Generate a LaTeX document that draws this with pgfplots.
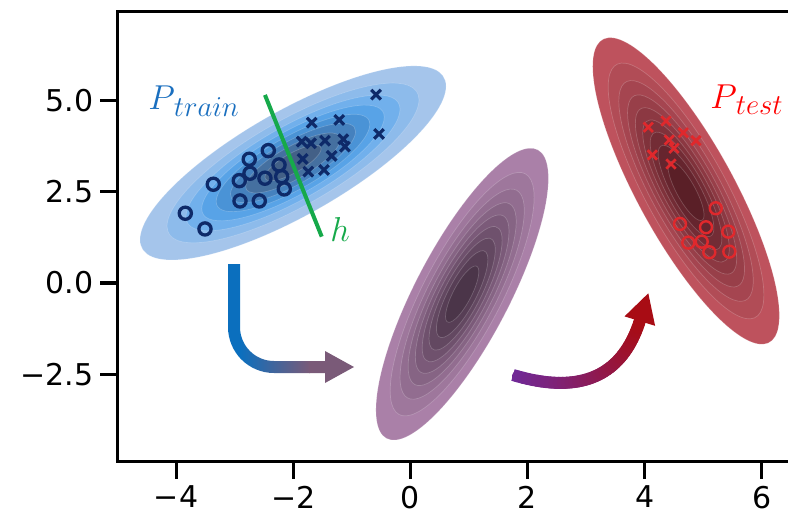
\documentclass[border=0pt]{standalone}
\usepackage{pgfplots}
\pgfplotsset{compat=1.18}
\usepackage{fontspec}
\setmainfont{DejaVu Sans}
\definecolor{b1}{HTML}{A5C5EB}
\definecolor{b2}{HTML}{8DBBEB}
\definecolor{b3}{HTML}{71B0EC}
\definecolor{b4}{HTML}{58A3E7}
\definecolor{b5}{HTML}{4A93D6}
\definecolor{b6}{HTML}{4581BE}
\definecolor{b7}{HTML}{4570A0}
\definecolor{b8}{HTML}{436087}
\definecolor{pL}{HTML}{AA80A8}
\definecolor{pD}{HTML}{4B3549}
\definecolor{rL}{HTML}{BE525D}
\definecolor{rD}{HTML}{5A1F27}
\colorlet{p1}{pL}\colorlet{p2}{pD!12.5!pL}\colorlet{p3}{pD!25!pL}\colorlet{p4}{pD!37.5!pL}
\colorlet{p5}{pD!50!pL}\colorlet{p6}{pD!62.5!pL}\colorlet{p7}{pD!75!pL}\colorlet{p8}{pD!87.5!pL}\colorlet{p9}{pD}
\colorlet{r1}{rL}\colorlet{r2}{rD!12.5!rL}\colorlet{r3}{rD!25!rL}\colorlet{r4}{rD!37.5!rL}
\colorlet{r5}{rD!50!rL}\colorlet{r6}{rD!62.5!rL}\colorlet{r7}{rD!75!rL}\colorlet{r8}{rD!87.5!rL}\colorlet{r9}{rD}
\definecolor{navy}{HTML}{0E2A69}
\definecolor{tred}{HTML}{E0282C}
\definecolor{hgreen}{HTML}{16A94A}
\definecolor{ptrain}{HTML}{1A6FBF}
\definecolor{arB}{HTML}{0B6FBE}
\definecolor{arM}{HTML}{7A5A78}
\definecolor{arP}{HTML}{6F2A9A}
\definecolor{arR}{HTML}{A80C14}
% one filled contour band: color, scale, cx, cy, Ax, Ay, Bx, By (conjugate semi-axes in data units)
\newcommand\band[8]{\pgfplotsextra{\begin{pgfscope}%
  \pgfmathsetmacro\eAx{#2*#5}\pgfmathsetmacro\eAy{#2*#6}%
  \pgfmathsetmacro\eBx{#2*#7}\pgfmathsetmacro\eBy{#2*#8}%
  \pgfpathellipse{\pgfplotspointaxisxy{#3}{#4}}{\pgfplotspointaxisdirectionxy{\eAx}{\eAy}}{\pgfplotspointaxisdirectionxy{\eBx}{\eBy}}%
  \pgfsetfillcolor{#1}\pgfsetstrokecolor{white}\pgfsetstrokeopacity{0.2}\pgfsetlinewidth{0.35pt}%
  \pgfusepath{fill,stroke}\end{pgfscope}}}
\begin{document}
\begin{tikzpicture}
\begin{axis}[
  name=ax, at={(0,0)}, anchor=south west,
  scale only axis, width=335.35pt, height=225pt,
  xmin=-5.004, xmax=6.447, ymin=-4.89, ymax=7.42,
  axis x line*=bottom, axis y line*=left,
  axis line style={line width=1.6pt, line cap=rect},
  tick align=outside, major tick length=8.5pt,
  tick style={line width=1.6pt, black},
  tick label style={font=\fontsize{15}{18}\selectfont},
  xtick={-4,-2,0,2,4,6}, xticklabels={−4,−2,0,2,4,6},
  ytick={-2.5,0,2.5,5}, yticklabels={−2.5,0.0,2.5,5.0},
]
% P_train contours
\band{b1}{1}{-2.004}{3.283}{2.612}{2.099}{0}{1.624}
\band{b2}{0.8233}{-2.004}{3.283}{2.612}{2.099}{0}{1.624}
\band{b3}{0.6996}{-2.004}{3.283}{2.612}{2.099}{0}{1.624}
\band{b4}{0.5964}{-2.004}{3.283}{2.612}{2.099}{0}{1.624}
\band{b5}{0.5020}{-2.004}{3.283}{2.612}{2.099}{0}{1.624}
\band{b6}{0.4090}{-2.004}{3.283}{2.612}{2.099}{0}{1.624}
\band{b7}{0.3093}{-2.004}{3.283}{2.612}{2.099}{0}{1.624}
\band{b8}{0.1834}{-2.004}{3.283}{2.612}{2.099}{0}{1.624}
% intermediate contours
\band{p1}{1}{0.884}{-0.306}{1.472}{3.168}{0}{2.429}
\band{p2}{0.8344}{0.884}{-0.306}{1.472}{3.168}{0}{2.429}
\band{p3}{0.7202}{0.884}{-0.306}{1.472}{3.168}{0}{2.429}
\band{p4}{0.6266}{0.884}{-0.306}{1.472}{3.168}{0}{2.429}
\band{p5}{0.5430}{0.884}{-0.306}{1.472}{3.168}{0}{2.429}
\band{p6}{0.4636}{0.884}{-0.306}{1.472}{3.168}{0}{2.429}
\band{p7}{0.3840}{0.884}{-0.306}{1.472}{3.168}{0}{2.429}
\band{p8}{0.2982}{0.884}{-0.306}{1.472}{3.168}{0}{2.429}
\band{p9}{0.1932}{0.884}{-0.306}{1.472}{3.168}{0}{2.429}
% P_test contours
\band{r1}{1}{4.706}{2.517}{1.593}{-3.407}{0}{2.445}
\band{r2}{0.8344}{4.706}{2.517}{1.593}{-3.407}{0}{2.445}
\band{r3}{0.7202}{4.706}{2.517}{1.593}{-3.407}{0}{2.445}
\band{r4}{0.6266}{4.706}{2.517}{1.593}{-3.407}{0}{2.445}
\band{r5}{0.5430}{4.706}{2.517}{1.593}{-3.407}{0}{2.445}
\band{r6}{0.4636}{4.706}{2.517}{1.593}{-3.407}{0}{2.445}
\band{r7}{0.3840}{4.706}{2.517}{1.593}{-3.407}{0}{2.445}
\band{r8}{0.2982}{4.706}{2.517}{1.593}{-3.407}{0}{2.445}
\band{r9}{0.1932}{4.706}{2.517}{1.593}{-3.407}{0}{2.445}
% decision boundary h
\addplot[hgreen, line width=2pt] coordinates {(-2.483,5.144) (-1.514,1.267)};
% training points
\addplot[only marks, mark=o, mark size=3.05pt, navy, mark options={line width=1.65pt}] coordinates {
(-3.843,1.907) (-3.507,1.477) (-3.365,2.700) (-2.751,3.384) (-2.426,3.620)
(-2.739,3.001) (-2.921,2.799) (-2.483,2.865) (-2.243,3.228) (-2.197,2.908)
(-2.153,2.572) (-2.909,2.243) (-2.580,2.243)};
\addplot[only marks, mark=x, mark size=3.4pt, navy, mark options={line width=1.6pt}] coordinates {
(-0.587,5.152) (-1.685,4.386) (-1.214,4.460) (-0.536,4.077) (-1.856,3.866)
(-1.697,3.822) (-1.458,3.893) (-1.146,3.932) (-1.117,3.729) (-1.839,3.393)
(-1.344,3.475) (-1.743,3.045) (-1.475,3.092)};
% test points
\addplot[only marks, mark=x, mark size=3.3pt, tred, mark options={line width=1.35pt}] coordinates {
(4.062,4.260) (4.364,4.432) (4.420,3.912) (4.659,4.112) (4.876,3.893)
(4.501,3.685) (4.130,3.502) (4.449,3.256)};
\addplot[only marks, mark=o, mark size=3.0pt, tred, mark options={line width=1.2pt}] coordinates {
(5.213,2.044) (4.603,1.614) (5.047,1.524) (5.428,1.404) (4.745,1.103)
(4.974,1.130) (5.103,0.840) (5.445,0.856)};
% labels
\node[anchor=base west, inner sep=0, text=ptrain] at (axis cs:-4.48,4.733)
  {\fontsize{17}{20}\selectfont$P$\kern-0.5pt\raisebox{-3.3pt}{\fontsize{13.5}{15}\selectfont$train$}};
\node[anchor=base west, inner sep=0, text=red] at (axis cs:5.115,4.78)
  {\fontsize{17}{20}\selectfont$P$\kern-0.5pt\raisebox{-3.3pt}{\fontsize{13.5}{15}\selectfont$test$}};
\node[anchor=base west, inner sep=0, text=hgreen] at (axis cs:-1.373,1.13)
  {\fontsize{17}{20}\selectfont$h$};
\end{axis}
\draw[line width=1.6pt, line cap=rect] (ax.north west) -- (ax.north east);
% arrows (pixel frame of the figure)
\begin{scope}[x=0.5pt,y=-0.5pt,shift={(-58.65pt,230.85pt)}]
 \begin{scope}
  \clip (228,264) -- (228,327) arc[start angle=180,end angle=90,radius=46] -- (326,373) -- (326,361) -- (274,361) arc[start angle=90,end angle=180,radius=34] -- (240,264) -- cycle;
  \fill[arB] (220,255) rectangle (241,380);
  \shade[left color=arB,right color=arM] (240,255) rectangle (310,380);
  \fill[arM] (309,255) rectangle (330,380);
 \end{scope}
 \fill[arM] (325,351) -- (354,367) -- (325,383) -- cycle;
 \path (513,375) .. controls (580.27,395.2) and (622.7,376.67) .. (640.3,319.4)
   \foreach \i in {0,...,40}{coordinate[pos=\i/40] (q\i)};
 \draw[line width=6pt, arP] (q0) -- (q1);
 \foreach \i in {1,...,39}{
   \pgfmathtruncatemacro\j{\i+1}
   \pgfmathtruncatemacro\t{round(100*(\i+0.5)/40)}
   \draw[line width=6pt, line cap=round, arR!\t!arP] (q\i) -- (q\j);}
 \fill[arR] (648.3,293.3) -- (655.1,325.8) -- (624.5,316.4) -- cycle;
\end{scope}
\pgfresetboundingbox
\useasboundingbox (-58.65pt,-26.65pt) rectangle (335.35pt,230.85pt);
\end{tikzpicture}
\end{document}
